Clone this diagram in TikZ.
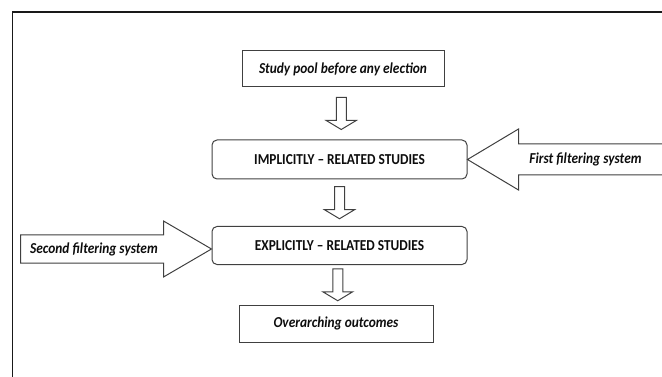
\documentclass[tikz,border=0pt]{standalone}
\usepackage{fontspec}
\setmainfont{Carlito}[FakeStretch=0.88]
\definecolor{framegrey}{gray}{0.1}
\definecolor{linegrey}{gray}{0.25}
\definecolor{textgrey}{gray}{0.05}
\usetikzlibrary{calc}
\usetikzlibrary{positioning}
\tikzstyle{base}=[x=1pt, y=-1pt, line join=miter]
\tikzstyle{plainbox}=[draw=linegrey, line width=1pt, inner sep=0pt, text=textgrey, font=\fontsize{15.2}{18}\selectfont\bfseries\itshape]
\tikzstyle{roundbox}=[plainbox, rounded corners=5pt, font=\fontsize{15.2}{18}\selectfont\bfseries]
\tikzstyle{label}=[inner sep=0pt, text=textgrey, font=\fontsize{15.2}{18}\selectfont\bfseries\itshape]
\tikzstyle{blockline}=[draw=linegrey, line width=1pt, fill=white]
\tikzset{downarr/.pic={
    \draw [blockline] (-5,-16) -- (5,-16) -- (5,7) -- (15,7) -- (0,16) -- (-15,7) -- (-5,7) -- cycle;
}}

\begin{document}
\begin{tikzpicture}[base]
    \path [use as bounding box] (0,0) rectangle (662,377);
    \draw [framegrey, line width=1.7pt] (12.5,390) -- (12.5,11.8) -- (680,11.8);
        % boxes
        \node [plainbox, minimum width=202pt, minimum height=36pt] (study) at (343,69) {Study pool before any election};
        \node [roundbox, minimum width=255pt, minimum height=39pt] (implicit) at (339.5,159.5) {IMPLICITLY -- RELATED STUDIES};
        \node [roundbox, minimum width=255pt, minimum height=38pt] (explicit) at (339.5,245.5) {EXPLICITLY -- RELATED STUDIES};
        \node [plainbox, minimum width=194pt, minimum height=37pt] (outcomes) at (336,323.5) {Overarching outcomes};
        % arrows between the boxes
        \pic at ($(study.south)!.5!(implicit.north)$) {downarr};
        \pic at ($(implicit.south)!.5!(explicit.north)$) {downarr};
        \pic at ($(explicit.south)!.5!(outcomes.north)$) {downarr};
        % filtering arrows
        \coordinate (tipone) at (implicit.east);
        \coordinate (tiptwo) at ([yshift=-3.5pt]explicit.west);
        \draw [blockline, shift={(tipone)}] (0,0) -- (51,-30.5) -- (51,-15.5) -- (230,-15.5)
            -- (230,15.5) -- (51,15.5) -- (51,30.5) -- cycle;
        \draw [blockline, shift={(tiptwo)}] (0,0) -- (-48,-28) -- (-48,-14) -- (-191,-14)
            -- (-191,14) -- (-48,14) -- (-48,28) -- cycle;
        \node [label] (first) at (585.5,159.5) {First filtering system};
        \node [label] (second) at (94,249) {Second filtering system};
    \end{tikzpicture}
\end{document}
